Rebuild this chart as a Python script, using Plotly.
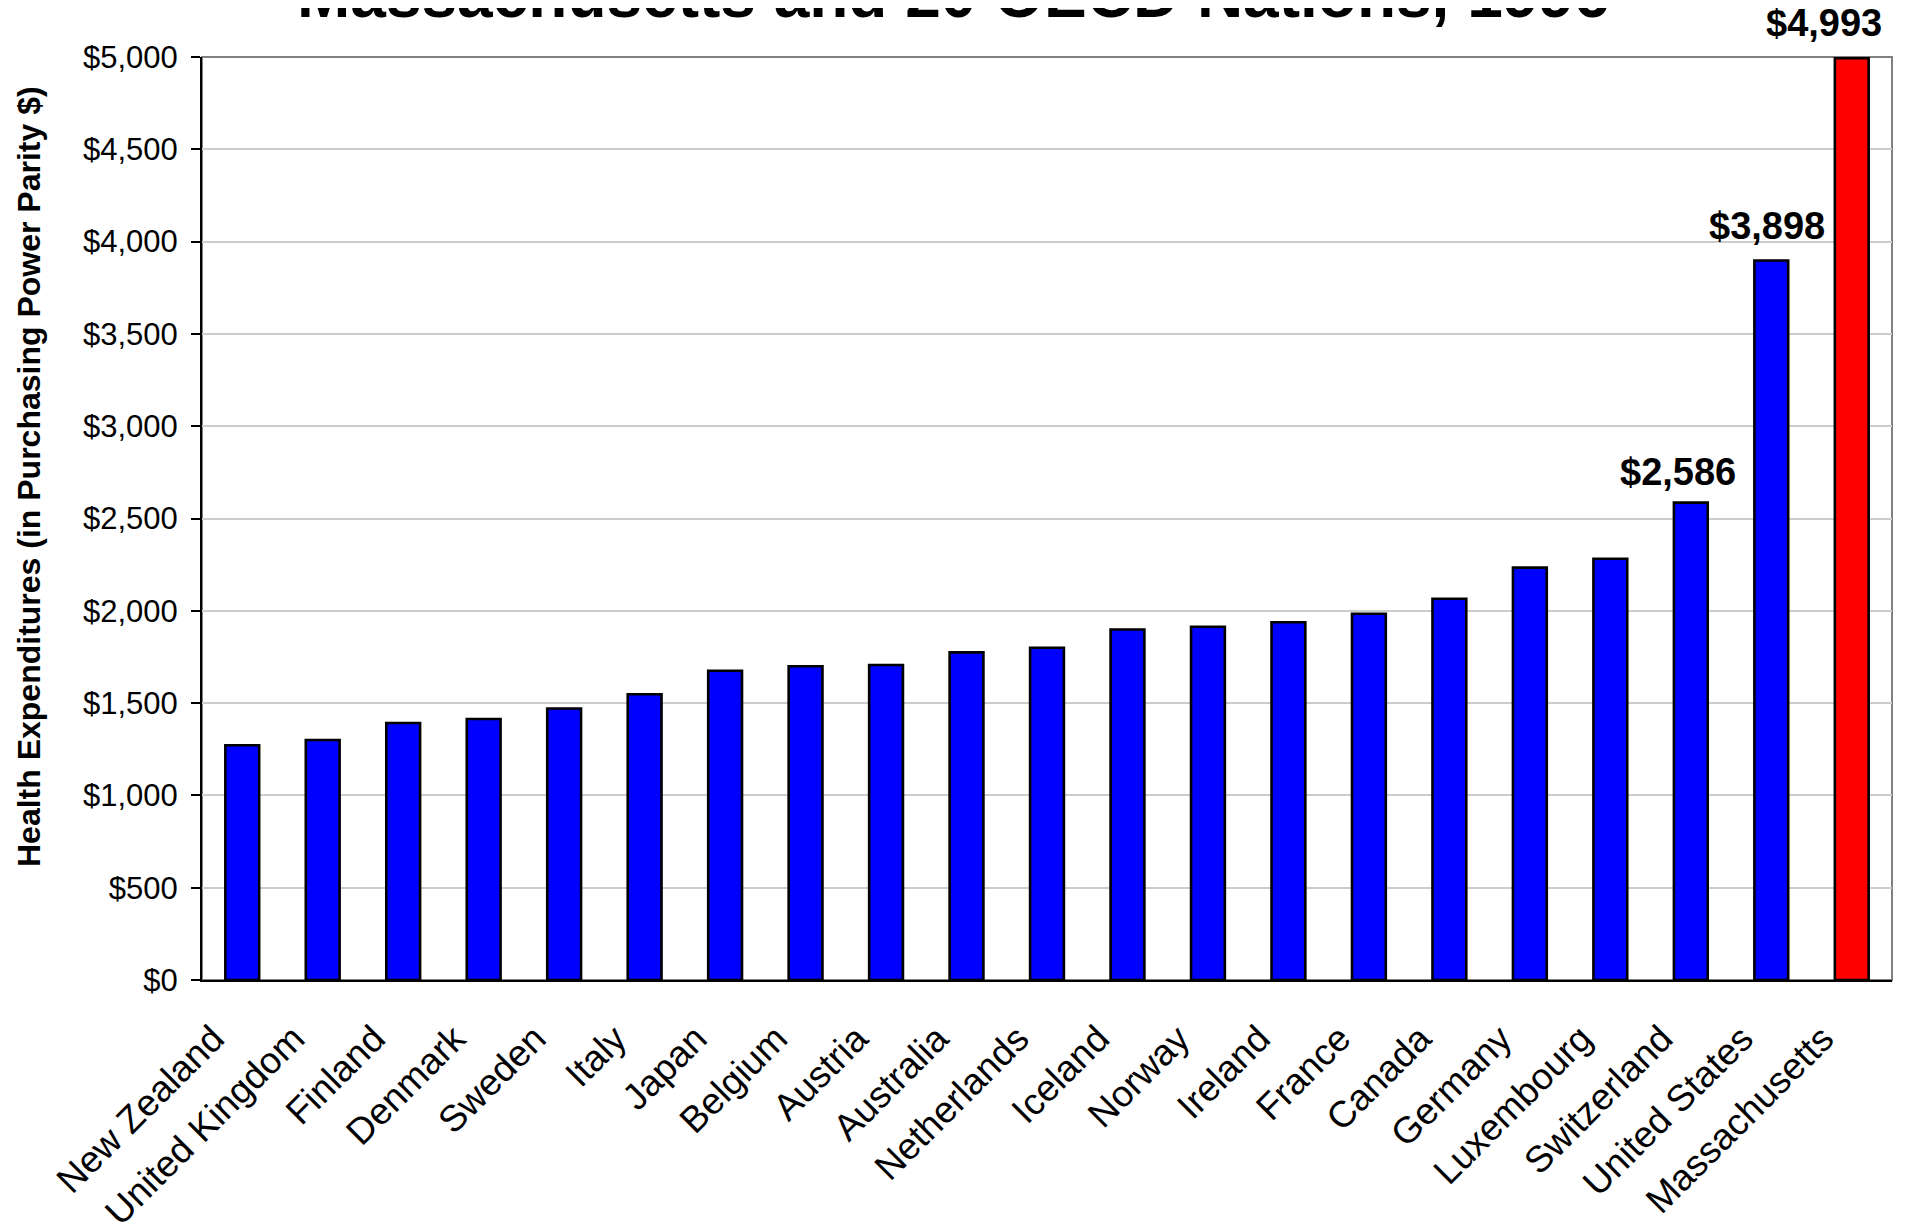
import plotly.graph_objects as go

countries = ["New Zealand", "United Kingdom", "Finland", "Denmark", "Sweden", "Italy",
             "Japan", "Belgium", "Austria", "Australia", "Netherlands", "Iceland",
             "Norway", "Ireland", "France", "Canada", "Germany", "Luxembourg",
             "Switzerland", "United States", "Massachusetts"]
spending = [1272, 1300, 1392, 1414, 1471, 1548, 1675, 1700, 1706, 1775, 1800, 1899,
            1914, 1938, 1984, 2065, 2234, 2282, 2586, 3898, 4993]
labeled = ["Switzerland", "United States", "Massachusetts"]
label_xshift = [-13, -4, -28]
label_yshift = [8, 11, 12]
y_ticks = [0, 500, 1000, 1500, 2000, 2500, 3000, 3500, 4000, 4500, 5000]

title_text = "Massachusetts and 20 OECD Nations, 1996"
ytitle_text = "Health Expenditures (in Purchasing Power Parity $)"

FONT = "Liberation Sans, Arial, sans-serif"
colors = ["#FF0000" if c == "Massachusetts" else "#0000FF" for c in countries]
PAD = "\u00a0" * 4
tick_text = [c + PAD for c in countries]

fig = go.Figure()
fig.add_trace(go.Bar(
    x=countries, y=spending,
    marker=dict(color=colors, line=dict(color="black", width=2.6)),
    hoverinfo="x+y",
))

# page has an 8px body margin; figure fills the remaining viewport
W, H = 1898, 1217
ml, mr, mt, mb = 194, 14, 49, 245

annotations = []
for c, dx, dy in zip(labeled, label_xshift, label_yshift):
    v = spending[countries.index(c)]
    annotations.append(dict(
        x=c, y=v, xref="x", yref="y", text=f"${v:,}", showarrow=False,
        xanchor="center", yanchor="bottom", yshift=dy, xshift=dx,
        font=dict(family=FONT, size=38, color="black", weight="bold"),
    ))

plot_w = W - ml - mr
plot_h = H - mt - mb
annotations.append(dict(
    x=(945 - ml) / plot_w, y=1, xref="paper", yref="paper", text=title_text,
    showarrow=False, xanchor="center", yanchor="bottom", yshift=24,
    font=dict(family=FONT, size=64, color="black", weight="bold"),
))
annotations.append(dict(
    x=(21 - ml) / plot_w, y=(H - mb - 469) / plot_h, xref="paper", yref="paper",
    text=ytitle_text, showarrow=False, textangle=-90,
    xanchor="center", yanchor="middle",
    font=dict(family=FONT, size=32, color="black", weight="bold"),
))

fig.update_layout(
    width=W, height=H,
    margin=dict(l=ml, r=mr, t=mt, b=mb, pad=0),
    plot_bgcolor="white", paper_bgcolor="white",
    bargap=0.58, showlegend=False,
    annotations=annotations,
    shapes=[dict(type="rect", xref="paper", yref="paper", x0=0, x1=1, y0=0, y1=1,
                 line=dict(color="#808080", width=2), layer="below")],
    xaxis=dict(
        type="category", tickangle=-45, showgrid=False, automargin=False,
        tickmode="array", tickvals=countries, ticktext=tick_text,
        showline=True, linecolor="black", linewidth=2,
        ticks="", ticklabelstandoff=-9,
        tickfont=dict(family=FONT, size=37, color="black"),
    ),
    yaxis=dict(
        range=[0, 5000], tickvals=y_ticks, tickformat="$,d", automargin=False,
        showgrid=True, gridcolor="#cccccc", gridwidth=1.5,
        showline=True, linecolor="black", linewidth=2,
        ticks="outside", ticklen=9, tickwidth=2, tickcolor="black",
        ticklabelstandoff=7, zeroline=False,
        tickfont=dict(family=FONT, size=31, color="black"),
    ),
)

fig.write_html("out.html")
